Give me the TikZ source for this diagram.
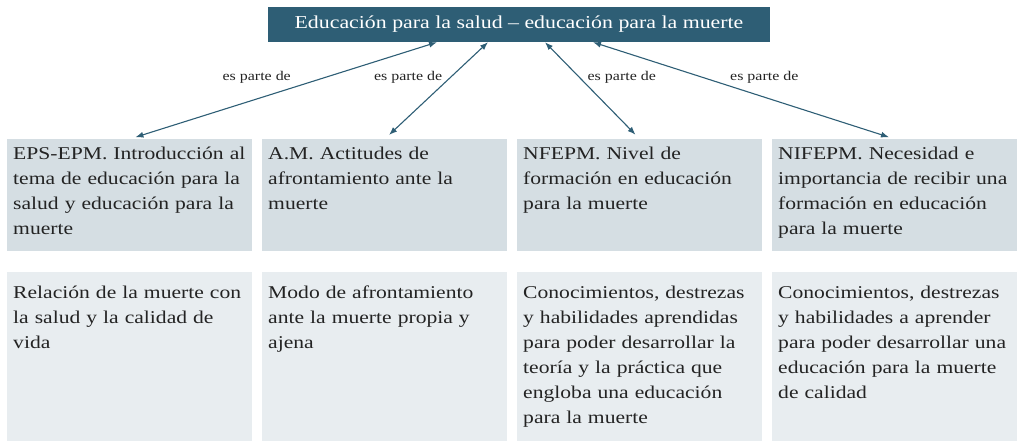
\documentclass[tikz,border=0pt]{standalone}
\usepackage{fontspec}
\setmainfont[FakeStretch=1.2]{Liberation Serif}
\usepackage{tikz}
\usetikzlibrary{arrows.meta}
\usetikzlibrary{calc}

\definecolor{titleblue}{RGB}{46,94,117}
\definecolor{headgray}{RGB}{213,222,227}
\definecolor{notegray}{RGB}{232,237,240}
\definecolor{textgray}{RGB}{35,35,35}

\begin{document}
\begin{tikzpicture}
  [x=1pt,y=-1pt,every node/.style={inner sep=0pt},
   topbox/.style={fill=titleblue,text=white,minimum width=502pt,minimum height=35pt,
     font=\fontsize{18.2}{22}\selectfont},
   headbox/.style={fill=headgray,minimum width=245pt,minimum height=112pt,anchor=north west},
   notebox/.style={fill=notegray,minimum width=245pt,minimum height=169pt,anchor=north west},
   boxtext/.style={anchor=north west,text width=240pt,align=left,text=textgray,
     font=\fontsize{18}{25}\selectfont},
   lbl/.style={text=textgray,font=\fontsize{13.3}{15}\selectfont},
   link/.style={{Latex[length=8pt,width=6pt]}-{Latex[length=8pt,width=6pt]},
     draw=titleblue,line width=1.1pt,shorten >=6pt}]
  \useasboundingbox (0,0) rectangle (1022,442);

  \node[topbox] (title) at (519,24.5) {Educación para la salud -- educación para la muerte};

  \node[headbox] (eps)    at (7,139)   {};
  \node[headbox] (am)     at (262,139) {};
  \node[headbox] (nfepm)  at (517,139) {};
  \node[headbox] (nifepm) at (772,139) {};

  \node[notebox] (epsnote)    at (7,272)   {};
  \node[notebox] (amnote)     at (262,272) {};
  \node[notebox] (nfepmnote)  at (517,272) {};
  \node[notebox] (nifepmnote) at (772,272) {};

  \node[boxtext] (epstxt)    at (13,141.5)  {\strut EPS-EPM. Introducción al\\tema de educación para la\\salud y educación para la\\muerte};
  \node[boxtext] (amtxt)     at (268,141.5) {\strut A.M. Actitudes de\\afrontamiento ante la\\muerte};
  \node[boxtext] (nfepmtxt)  at (523,141.5) {\strut NFEPM. Nivel de\\formación en educación\\para la muerte};
  \node[boxtext] (nifepmtxt) at (778,141.5) {\strut NIFEPM. Necesidad e\\importancia de recibir una\\formación en educación\\para la muerte};

  \node[boxtext] (epsdesc)    at (13,281)  {\strut Relación de la muerte con\\la salud y la calidad de\\vida};
  \node[boxtext] (amdesc)     at (268,281) {\strut Modo de afrontamiento\\ante la muerte propia y\\ajena};
  \node[boxtext] (nfepmdesc)  at (523,281) {\strut Conocimientos, destrezas\\y habilidades aprendidas\\para poder desarrollar la\\teoría y la práctica que\\engloba una educación\\para la muerte};
  \node[boxtext] (nifepmdesc) at (778,281) {\strut Conocimientos, destrezas\\y habilidades a aprender\\para poder desarrollar una\\educación para la muerte\\de calidad};

  \coordinate (ep1) at ($(title.south)+(-82,0)$);
  \coordinate (ep2) at ($(title.south)+(-31,0)$);
  \coordinate (ep3) at ($(title.south)+(26,0)$);
  \coordinate (ep4) at ($(title.south)+(74,0)$);

  \foreach \from/\to/\side/\dx in {ep1/eps/east/-35, ep2/am/east/-8, ep3/nfepm/west/8, ep4/nifepm/west/28}
    \draw[link] (\from) -- node[lbl,pos=.36,anchor=\side,xshift=\dx pt] {es parte de} (\to.north);
\end{tikzpicture}
\end{document}
